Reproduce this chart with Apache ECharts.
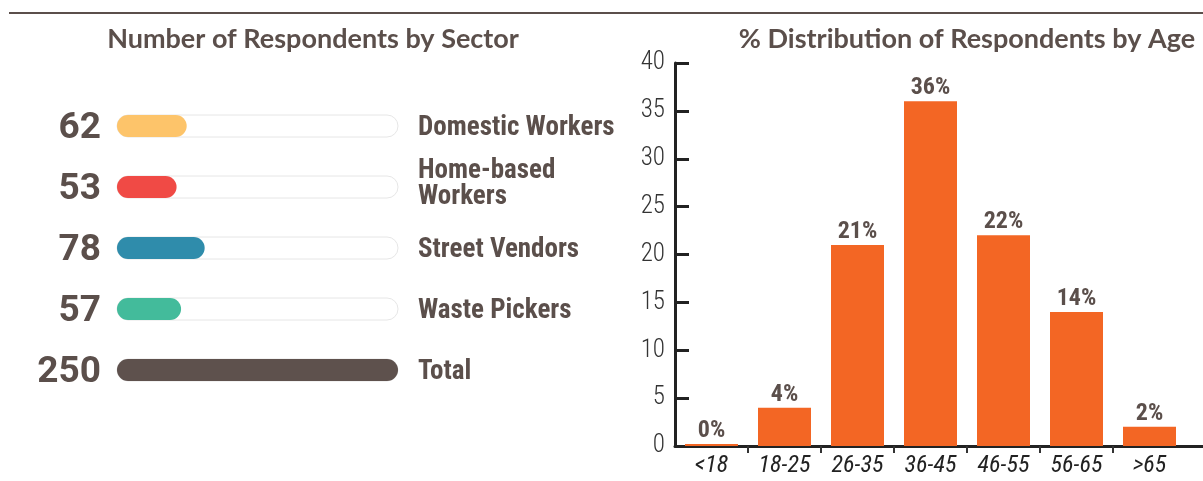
<!DOCTYPE html>
<html>
<head>
<meta charset="utf-8">
<script src="https://cdn.jsdelivr.net/npm/echarts@6/dist/echarts.min.js"></script>
<style>
  html, body { margin: 0; padding: 0; background: #fff; }
  #chart { width: 1203px; height: 481px; }
</style>
</head>
<body>
<div id="chart"></div>
<script>
// left panel: respondents by sector
const sectors = ['Domestic Workers', 'Home-based\nWorkers', 'Street Vendors', 'Waste Pickers', 'Total'];
const sectorCounts = [62, 53, 78, 57, 250];
const sectorColors = ['#fdc46a', '#f04a45', '#2f8cab', '#43bb9b', '#5e514d'];

// right panel: % by age
const ageGroups = ['<18', '18-25', '26-35', '36-45', '46-55', '56-65', '>65'];
const agePct = [0, 4, 21, 36, 22, 14, 2];
const yTicks = [0, 5, 10, 15, 20, 25, 30, 35, 40];

const brown = '#5b4f4b';
const cond = '"Roboto Condensed", Roboto, sans-serif';

const chart = echarts.init(document.getElementById('chart'));

chart.setOption({
  animation: false,
  title: [
    {
      text: 'Number of Respondents by Sector',
      left: 308, top: 21, textAlign: 'center',
      textStyle: { fontFamily: 'Lato', fontWeight: 'bold', fontSize: 27, color: brown }
    },
    {
      text: '% Distribution of Respondents by Age',
      left: 962, top: 21, textAlign: 'center',
      textStyle: { fontFamily: 'Lato', fontWeight: 'bold', fontSize: 27, color: brown }
    }
  ],
  graphic: [
    { type: 'line', shape: { x1: 9, y1: 13, x2: 1203, y2: 13 }, style: { stroke: brown, lineWidth: 2 } }
  ],
  grid: [
    { left: 117, width: 281, top: 95.5, height: 305 },
    // axis runs on past the right edge (one spare empty band)
    { left: 675, width: 584, top: 63, bottom: 35, outerBoundsMode: 'none' }
  ],
  xAxis: [
    { gridIndex: 0, type: 'value', min: 0, max: 250, show: false },
    {
      gridIndex: 1, type: 'category', data: ageGroups.concat(['']),
      axisLine: { lineStyle: { color: '#222', width: 3 } },
      axisTick: { show: true, length: 7, interval: i => i > 0 && i < ageGroups.length,
        lineStyle: { color: '#333', width: 2 } },
      axisLabel: { interval: 0, fontFamily: cond, fontStyle: 'italic', fontSize: 24, color: '#222', margin: 8 }
    }
  ],
  yAxis: [
    {
      gridIndex: 0, type: 'category', inverse: true,
      data: sectorCounts.map(String),
      axisLine: { show: false }, axisTick: { show: false },
      axisLabel: {
        margin: 16,
        formatter: v => '{n|' + v + '}',
        rich: { n: { fontFamily: 'Roboto', fontWeight: 'bold', fontSize: 37, color: brown, padding: [6, 0, 0, 0] } }
      }
    },
    {
      gridIndex: 0, type: 'category', inverse: true, position: 'right',
      data: sectors,
      axisLine: { show: false }, axisTick: { show: false },
      axisLabel: {
        margin: 20, align: 'left',
        formatter: v => v.includes('\n')
          ? v.split('\n').map(s => '{t|' + s + '}').join('\n') + '\n{e|}'
          : '{s|' + v + '}',
        rich: {
          s: { fontFamily: cond, fontWeight: 'bold', fontSize: 27, color: brown, padding: [4, 0, 0, 0] },
          t: { fontFamily: cond, fontWeight: 'bold', fontSize: 27, lineHeight: 26, color: brown },
          e: { fontSize: 6, lineHeight: 6 }
        }
      }
    },
    {
      gridIndex: 1, type: 'value', min: 0, max: 40, interval: 5,
      splitLine: { show: false },
      axisLine: { show: true, lineStyle: { color: '#222', width: 3 } },
      axisTick: { show: true, inside: true, length: 14, lineStyle: { color: '#222', width: 3 } },
      axisLabel: { fontFamily: cond, fontWeight: 300, fontSize: 25, color: '#333', margin: 10,
        formatter: v => yTicks.includes(v) ? String(v) : '' }
    }
  ],
  series: [
    {
      type: 'bar', xAxisIndex: 0, yAxisIndex: 0,
      barWidth: 22,
      showBackground: true,
      backgroundStyle: { color: '#fff', borderColor: '#e6e6e6', borderWidth: 1, borderRadius: 11 },
      itemStyle: { borderRadius: 11 },
      data: sectorCounts.map((v, i) => ({ value: v, itemStyle: { color: sectorColors[i] } }))
    },
    {
      type: 'bar', xAxisIndex: 1, yAxisIndex: 2,
      barWidth: 53, barMinHeight: 2,
      itemStyle: { color: '#f36624' },
      label: {
        show: true, position: 'top', distance: 1,
        formatter: p => p.value + '%',
        fontFamily: cond, fontWeight: 'bold', fontSize: 24, color: brown
      },
      data: agePct
    }
  ]
});
</script>
</body>
</html>
